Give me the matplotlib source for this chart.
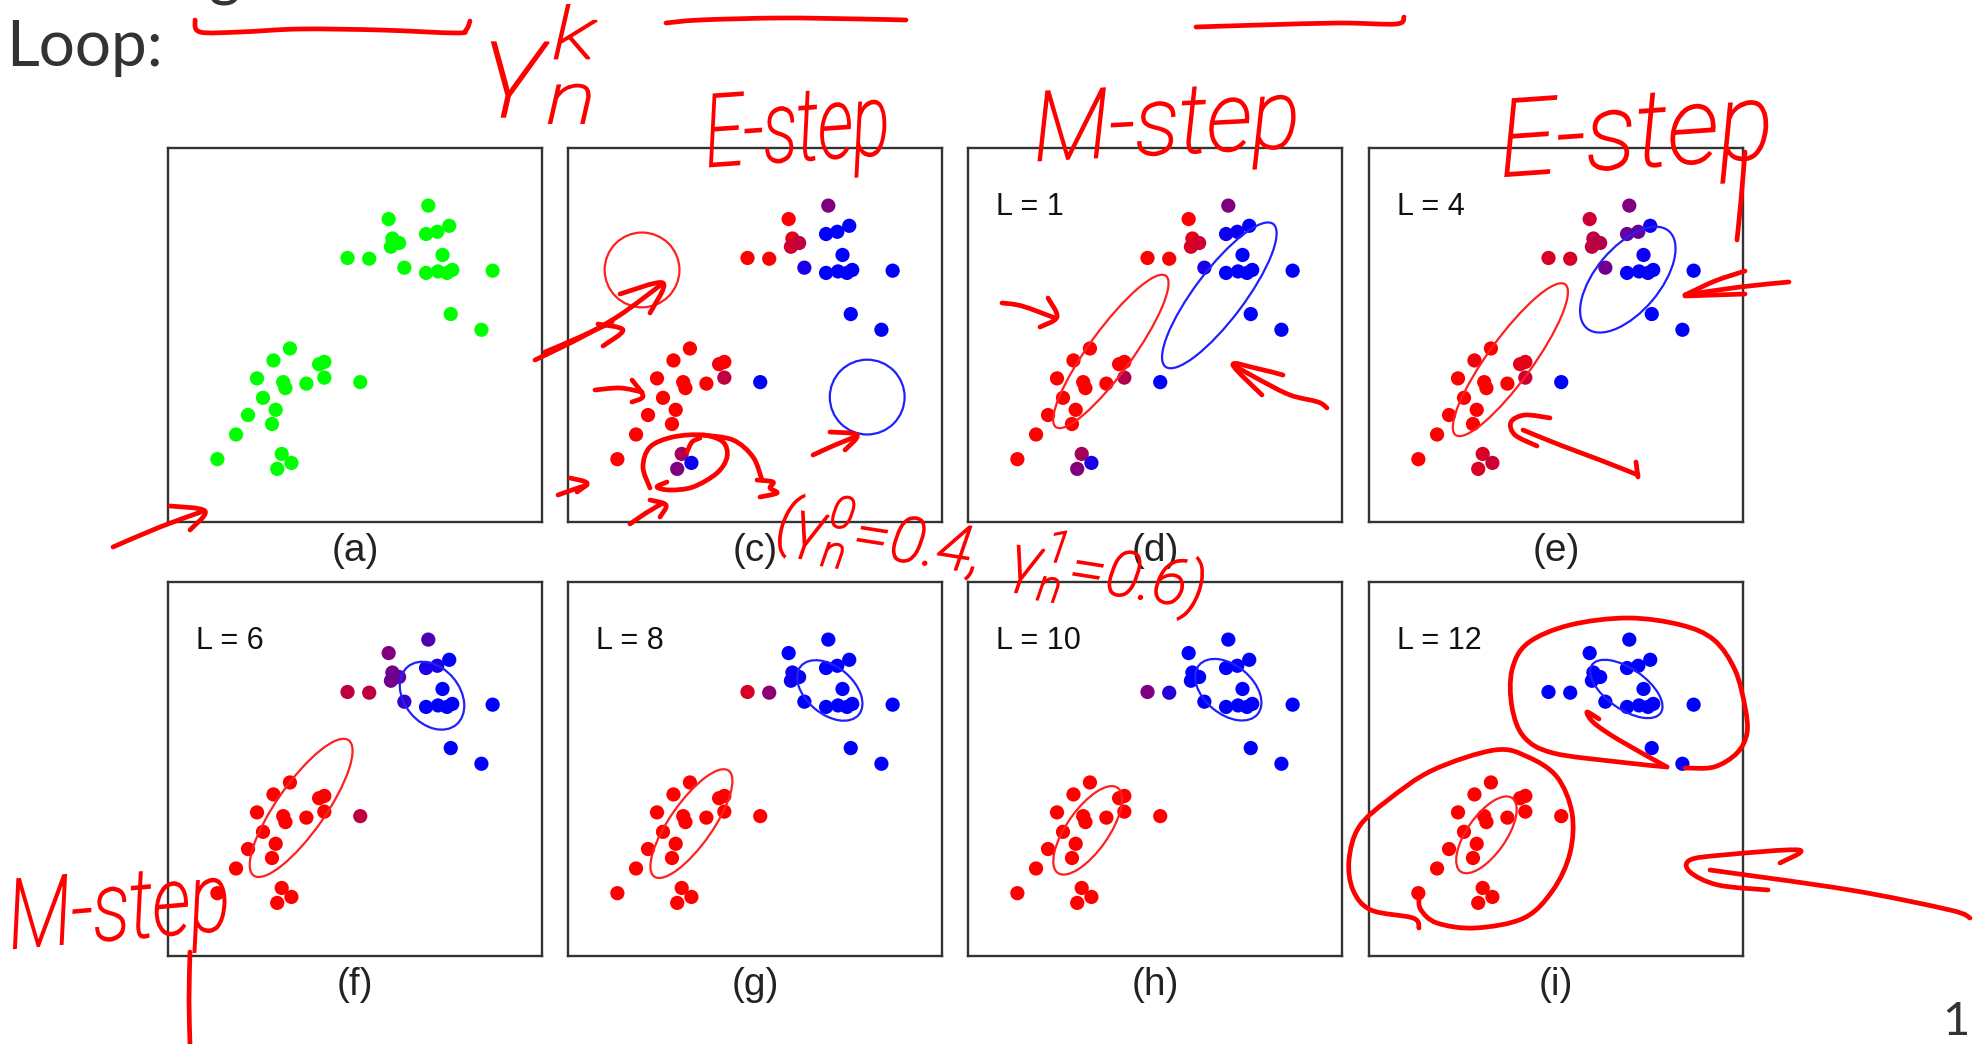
import matplotlib
matplotlib.use("Agg")
import matplotlib.pyplot as plt
import numpy as np
from matplotlib.patches import Ellipse, PathPatch
from matplotlib.path import Path
from matplotlib.textpath import TextPath
from matplotlib.font_manager import FontProperties
from matplotlib.transforms import Affine2D

# ---- data (standardised coordinates, both axes -2.5 .. 2.5) ----
x_pts = [0.98, 0.45, 1.26, 0.95, 1.10, 0.50, 0.59, 0.48, 1.17, -0.10, 0.19, 0.66, 0.95, 1.11, 1.23, 1.30, 1.84, 1.28, 1.69,
         -0.87, -1.09, -0.48, -0.41, -0.41, -1.31, -0.96, -0.93, -0.65, 0.07, -1.23, -1.06, -1.43, -1.11, -1.59, -1.84,
         -0.98, -0.85, -1.04]
y_pts = [1.73, 1.55, 1.46, 1.35, 1.38, 1.29, 1.23, 1.18, 1.07, 1.03, 1.02, 0.90, 0.83, 0.85, 0.83, 0.87, 0.86, 0.28, 0.07,
         -0.18, -0.34, -0.39, -0.36, -0.57, -0.58, -0.63, -0.71, -0.65, -0.63, -0.84, -1.00, -1.07, -1.19, -1.33, -1.66,
         -1.59, -1.71, -1.79]

# responsibility of the red component for every point
resp_c = [0.5, 1, 0, 0, 0, 0.9, 0.75, 0.8, 0, 1, 1, 0.1, 0, 0, 0, 0, 0, 0, 0,
          1, 1, 0.95, 1, 0.75, 1, 1, 1, 1, 0, 1, 1, 1, 1, 1, 1, 0.65, 0.05, 0.5]
resp_d = [0.5, 1, 0, 0.05, 0.05, 0.9, 0.8, 0.85, 0, 1, 1, 0.1, 0, 0, 0, 0, 0, 0, 0,
          1, 1, 1, 1, 0.7, 1, 1, 1, 1, 0, 1, 1, 1, 1, 1, 1, 0.65, 0.1, 0.5]
resp_e = [0.5, 0.8, 0.05, 0.4, 0.4, 0.75, 0.7, 0.75, 0.05, 0.85, 0.85, 0.45, 0.02, 0.02, 0.02, 0.02, 0, 0, 0,
          1, 0.95, 0.9, 0.9, 0.8, 1, 1, 1, 1, 0, 1, 1, 1, 1, 1, 1, 0.85, 0.8, 0.85]
resp_f = [0.3, 0.5, 0, 0.1, 0.1, 0.45, 0.4, 0.45, 0, 0.75, 0.75, 0.2, 0, 0, 0, 0, 0, 0, 0,
          1, 1, 1, 1, 1, 1, 1, 1, 1, 0.75, 1, 1, 1, 1, 1, 1, 1, 1, 1]
resp_g = [0, 0, 0, 0, 0, 0.05, 0.05, 0.05, 0, 0.85, 0.55, 0, 0, 0, 0, 0, 0, 0, 0,
          1, 1, 1, 1, 1, 1, 1, 1, 1, 1, 1, 1, 1, 1, 1, 1, 1, 1, 1]
resp_h = [0, 0, 0, 0, 0, 0, 0, 0, 0, 0.5, 0.15, 0, 0, 0, 0, 0, 0, 0, 0,
          1, 1, 1, 1, 1, 1, 1, 1, 1, 1, 1, 1, 1, 1, 1, 1, 1, 1, 1]
resp_i = [0, 0, 0, 0, 0, 0, 0, 0, 0, 0, 0, 0, 0, 0, 0, 0, 0, 0, 0,
          1, 1, 1, 1, 1, 1, 1, 1, 1, 1, 1, 1, 1, 1, 1, 1, 1, 1, 1]

panel_labels = ["(a)", "(c)", "(d)", "(e)", "(f)", "(g)", "(h)", "(i)"]
iter_labels = [None, None, "L = 1", "L = 4", "L = 6", "L = 8", "L = 10", "L = 12"]
responsibilities = [None, resp_c, resp_d, resp_e, resp_f, resp_g, resp_h, resp_i]

# one-sigma contours: centre x, centre y, width, height, angle
red_contours = [None, (-1.51, 0.87, 1.0, 1.0, 0), (-0.59, -0.22, 2.50, 0.58, 54), (-0.61, -0.33, 2.49, 0.59, 54),
                (-0.72, -0.52, 2.21, 0.65, 55), (-0.85, -0.73, 1.73, 0.57, 55), (-0.90, -0.82, 1.39, 0.56, 55),
                (-0.93, -0.88, 1.20, 0.52, 55)]
blue_contours = [None, (1.50, -0.83, 1.0, 1.0, 0), (0.86, 0.53, 2.39, 0.66, 53), (0.96, 0.74, 1.70, 0.86, 50),
                 (1.03, 0.98, 1.01, 0.74, -50), (1.00, 1.05, 1.01, 0.63, -40), (0.98, 1.06, 1.02, 0.65, -40),
                 (0.94, 1.07, 1.12, 0.54, -35)]

# ---- hand-drawn annotations (slide pixel coordinates) ----
ink_strokes = [
    [(195, 20), (200, 32), (240, 32), (300, 29), (380, 30), (456, 33), (466, 30), (470, 21)],
    [(666, 23), (700, 20), (780, 18), (860, 19), (906, 20)],
    [(1196, 27), (1260, 25), (1340, 23), (1396, 24), (1404, 17)],
    [(1745, 152), (1741, 200), (1737, 240)],
    [(190, 952), (189, 1000), (190, 1044)],
    # arrow from (a) into (c)
    [(535, 360), (580, 338), (620, 315), (662, 284)],
    [(545, 352), (580, 337), (612, 322)],
    [(598, 324), (623, 330), (603, 346)],
    [(620, 294), (663, 283), (650, 313)],
    # bottom-left arrow
    [(113, 547), (160, 527), (201, 512)],
    [(170, 506), (205, 511), (190, 530)],
    # panel (c)
    [(595, 390), (620, 388), (642, 392)],
    [(632, 380), (643, 396), (632, 402)],
    [(650, 488), (643, 467), (650, 447), (673, 437), (703, 435), (723, 442), (727, 457), (717, 473), (693, 487),
     (670, 490), (657, 487), (667, 482)],
    [(687, 452), (692, 442), (700, 438)],
    [(703, 435), (733, 440), (753, 457), (762, 480)],
    [(757, 480), (773, 482), (770, 488), (777, 493), (760, 497)],
    [(813, 455), (835, 445), (855, 437)],
    [(830, 432), (857, 435), (845, 450)],
    [(558, 495), (572, 490), (587, 485)],
    [(570, 478), (587, 483), (577, 492)],
    [(630, 524), (646, 513), (663, 503)],
    [(650, 500), (666, 505), (660, 517)],
    # panel (d)
    [(1002, 303), (1022, 306), (1055, 318)],
    [(1048, 298), (1057, 317), (1040, 327)],
    [(1327, 408), (1318, 402), (1290, 395), (1260, 380), (1233, 365)],
    [(1283, 375), (1255, 368), (1233, 365), (1262, 395)],
    # panel (e)
    [(1789, 282), (1740, 287), (1685, 295)],
    [(1685, 295), (1715, 281), (1745, 271)],
    [(1685, 296), (1745, 294)],
    [(1638, 475), (1600, 460), (1560, 445), (1523, 430)],
    [(1550, 418), (1525, 415), (1511, 422), (1515, 435), (1537, 446)],
    [(1636, 462), (1638, 477)],
    # panel (i)
    [(1667, 767), (1619, 762), (1553, 753), (1524, 737), (1512, 707), (1512, 670), (1528, 643), (1570, 625),
     (1628, 618), (1681, 625), (1714, 640), (1735, 670), (1745, 707), (1747, 733), (1737, 753), (1714, 767),
     (1685, 768)],
    [(1667, 767), (1619, 740), (1594, 723), (1587, 712), (1599, 719)],
    [(1419, 928), (1413, 918), (1371, 910), (1353, 890), (1349, 860), (1359, 827), (1388, 800), (1433, 770),
     (1495, 750), (1528, 757), (1557, 777), (1572, 813), (1570, 853), (1553, 890), (1524, 918), (1475, 928),
     (1437, 923), (1421, 910), (1419, 897), (1421, 890)],
    [(1970, 918), (1950, 910), (1850, 890), (1710, 870)],
    [(1768, 890), (1718, 885), (1690, 872), (1690, 860), (1723, 855), (1799, 850), (1780, 863)],
]
# text, left, top, width, height, rotation
ink_words = [
    (r"$E\text{-}step$", 705, 95, 178, 92, 4),
    (r"$M\text{-}step$", 1035, 92, 258, 88, 3),
    (r"$E\text{-}step$", 1500, 100, 265, 98, 4),
    (r"$M\text{-}step$", 8, 880, 215, 88, 5),
    (r"$\gamma_n^k$", 492, 5, 105, 118, 0),
    (r"$(\gamma_n^0\!=\!0.4,\ \gamma_n^1\!=\!0.6)$", 787, 487, 425, 72, -9),
]

W, H = 1975, 1044
panel_left = [168, 568, 968, 1369]
panel_top = [148, 582]
size = 374
INK = "#ff0000"

plt.rcParams["mathtext.fontset"] = "custom"
plt.rcParams["mathtext.it"] = "Roboto:italic:light"
plt.rcParams["mathtext.rm"] = "Roboto:italic:light"


def smooth(pts):
    p = np.asarray(pts, float)
    p = np.vstack([p[0], p, p[-1]])
    verts = [p[1]]
    codes = [Path.MOVETO]
    for i in range(1, len(p) - 2):
        p0, p1, p2, p3 = p[i - 1], p[i], p[i + 1], p[i + 2]
        verts += [p1 + (p2 - p0) / 6, p2 - (p3 - p1) / 6, p2]
        codes += [Path.CURVE4] * 3
    return Path(verts, codes)


def ink_text(ax, s, x, y, w, h, rot):
    fp = FontProperties(family="Roboto", style="italic", weight="light")
    path = TextPath((0, 0), s, size=100, prop=fp)
    ext = path.get_extents()
    tr = (Affine2D().translate(-ext.x0, -ext.y1)
          .scale(w / ext.width, -h / ext.height)
          .rotate_deg(-rot)
          .translate(x, y))
    ax.add_patch(PathPatch(tr.transform_path(path), fc=INK, ec=INK, lw=1.4))


fig = plt.figure(figsize=(W / 100, H / 100), dpi=100)
fig.patch.set_facecolor("white")

for i in range(8):
    row, col = divmod(i, 4)
    left = panel_left[col]
    top = panel_top[row]
    ax = fig.add_axes([left / W, 1 - (top + size) / H, size / W, size / H])
    ax.set_xlim(-2.5, 2.5)
    ax.set_ylim(-2.5, 2.5)
    ax.set_xticks([])
    ax.set_yticks([])
    for sp in ax.spines.values():
        sp.set_color("#333333")
        sp.set_linewidth(1.7)

    r = responsibilities[i]
    if r is None:
        colors = "#00ff00"
    else:
        colors = [(v, 0, 1 - v) for v in r]
    ax.scatter(x_pts, y_pts, s=105, c=colors, edgecolors="none", zorder=2)

    if red_contours[i] is not None:
        for cont, col_ in ((red_contours[i], "#ff2020"), (blue_contours[i], "#2020ff")):
            cx, cy, ew, eh, ang = cont
            ax.add_patch(Ellipse((cx, cy), ew, eh, angle=ang, fill=False,
                                 ec=col_, lw=1.6, zorder=3))
    if iter_labels[i] is not None:
        ax.text(0.075, 0.82, iter_labels[i], transform=ax.transAxes, fontsize=22,
                family="Liberation Sans", color="#111111", va="baseline", ha="left")
    ax.text(0.5, -0.078, panel_labels[i], transform=ax.transAxes, fontsize=28,
            family="Liberation Sans", color="#222222", va="center", ha="center")

# slide text
fig.text(6 / W, 1 - 66 / H, "Loop:", fontsize=46, family="Lato",
         color="#333333", va="baseline", ha="left")
fig.text(208 / W, 1 + 6 / H, "g", fontsize=44, family="Lato", color="#333333",
         va="baseline", ha="left")
fig.text(1942 / W, 1 - 1043 / H, "1", fontsize=34, family="Lato",
         color="#333333", va="bottom", ha="left")

# ink overlay
ink = fig.add_axes([0, 0, 1, 1])
ink.set_xlim(0, W)
ink.set_ylim(H, 0)
ink.axis("off")
ink.set_zorder(10)
for st in ink_strokes:
    ink.add_patch(PathPatch(smooth(st), fill=False, ec=INK, lw=3.4,
                            capstyle="round", joinstyle="round"))
for s, x, y, w, h, rot in ink_words:
    ink_text(ink, s, x, y, w, h, rot)

fig.savefig("out.png", dpi=100, facecolor="white")
